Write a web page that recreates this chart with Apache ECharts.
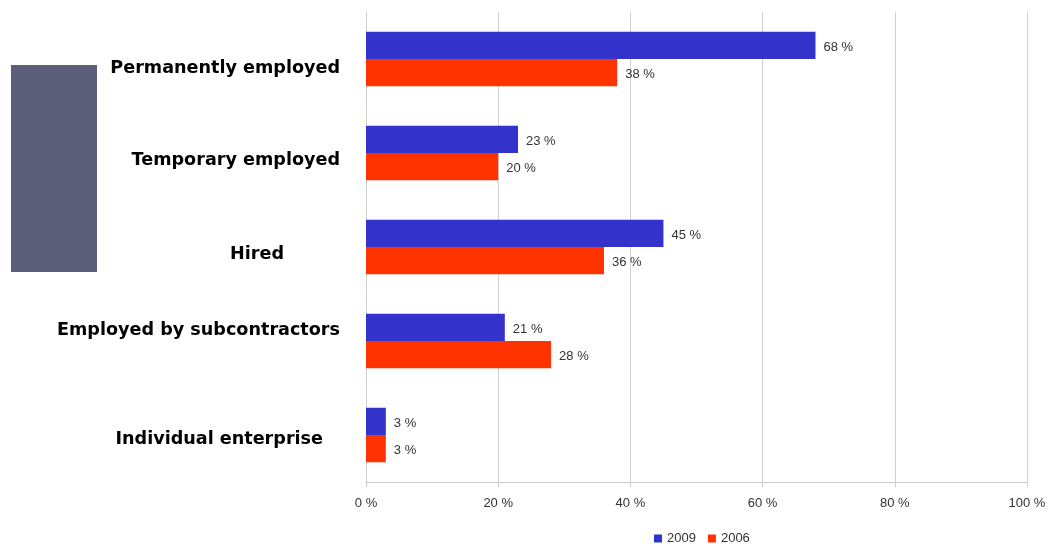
<!DOCTYPE html>
<html><head><meta charset="utf-8">
<script src="https://cdn.jsdelivr.net/npm/echarts@6/dist/echarts.min.js"></script>
<style>html,body{margin:0;padding:0;background:#fff}#c{width:1050px;height:546px}</style>
</head><body><div id="c"></div>
<script>
const categories = ['Permanently employed','Temporary employed','Hired','Employed by subcontractors','Individual enterprise'];
const series2009 = [68, 23, 45, 21, 3];
const series2006 = [38, 20, 36, 28, 3];
const xTicks = [0, 20, 40, 60, 80, 100];

const labelPad = {
  'Permanently employed': [18, 0, 0, 0],
  'Temporary employed': [14, 0, 0, 0],
  'Hired': [14, 56, 0, 0],
  'Employed by subcontractors': [0, 0, 22, 0],
  'Individual enterprise': [8, 17, 0, 0]
};
const rich = {};
categories.forEach((c, i) => {
  rich['c' + i] = {padding: labelPad[c], fontFamily: 'DejaVu Sans, Verdana, sans-serif', fontWeight: 'bold', fontSize: 17.6, color: '#000'};
});

const chart = echarts.init(document.getElementById('c'), null, {renderer: 'canvas'});
chart.setOption({
  animation: false,
  backgroundColor: '#fff',
  graphic: [{type: 'rect', left: 11, top: 65, shape: {width: 86, height: 207}, style: {fill: '#5a5e78'}}],
  legend: {
    bottom: 0, itemWidth: 8, itemHeight: 8, itemGap: 12,
    icon: 'rect',
    textStyle: {color: '#333', fontSize: 13, fontFamily: 'Liberation Sans, Arial, sans-serif'},
    data: ['2009', '2006'],
    padding: [0, 0, 1, 0],
    left: 654
  },
  grid: {left: 366, right: 23, top: 12, bottom: 64},
  xAxis: {
    type: 'value', min: 0, max: 100, interval: 20,
    axisLine: {show: true, lineStyle: {color: '#ccc'}},
    axisTick: {show: true, length: 5, lineStyle: {color: '#ccc'}},
    splitLine: {show: true, lineStyle: {color: '#d0d0d0'}},
    axisLabel: {formatter: v => xTicks.includes(v) ? v + ' %' : '', color: '#333', fontSize: 13, margin: 15, fontFamily: 'Liberation Sans, Arial, sans-serif'}
  },
  yAxis: {
    type: 'category', inverse: true, data: categories,
    axisLine: {show: true, lineStyle: {color: '#d0d0d0'}},
    axisTick: {show: false},
    axisLabel: {
      margin: 26,
      formatter: (v) => '{c' + categories.indexOf(v) + '|' + v + '}',
      rich: rich
    }
  },
  series: [
    {name: '2009', type: 'bar', data: series2009, barGap: '0%', barCategoryGap: '42%',
     itemStyle: {color: '#3333cc'},
     label: {show: true, position: 'right', distance: 8, offset: [0, 2], formatter: p => p.value + ' %', color: '#333', fontSize: 13, fontFamily: 'Liberation Sans, Arial, sans-serif'}},
    {name: '2006', type: 'bar', data: series2006, barGap: '0%', barCategoryGap: '42%',
     itemStyle: {color: '#ff3300'},
     label: {show: true, position: 'right', distance: 8, offset: [0, 2], formatter: p => p.value + ' %', color: '#333', fontSize: 13, fontFamily: 'Liberation Sans, Arial, sans-serif'}}
  ]
});
</script></body></html>
